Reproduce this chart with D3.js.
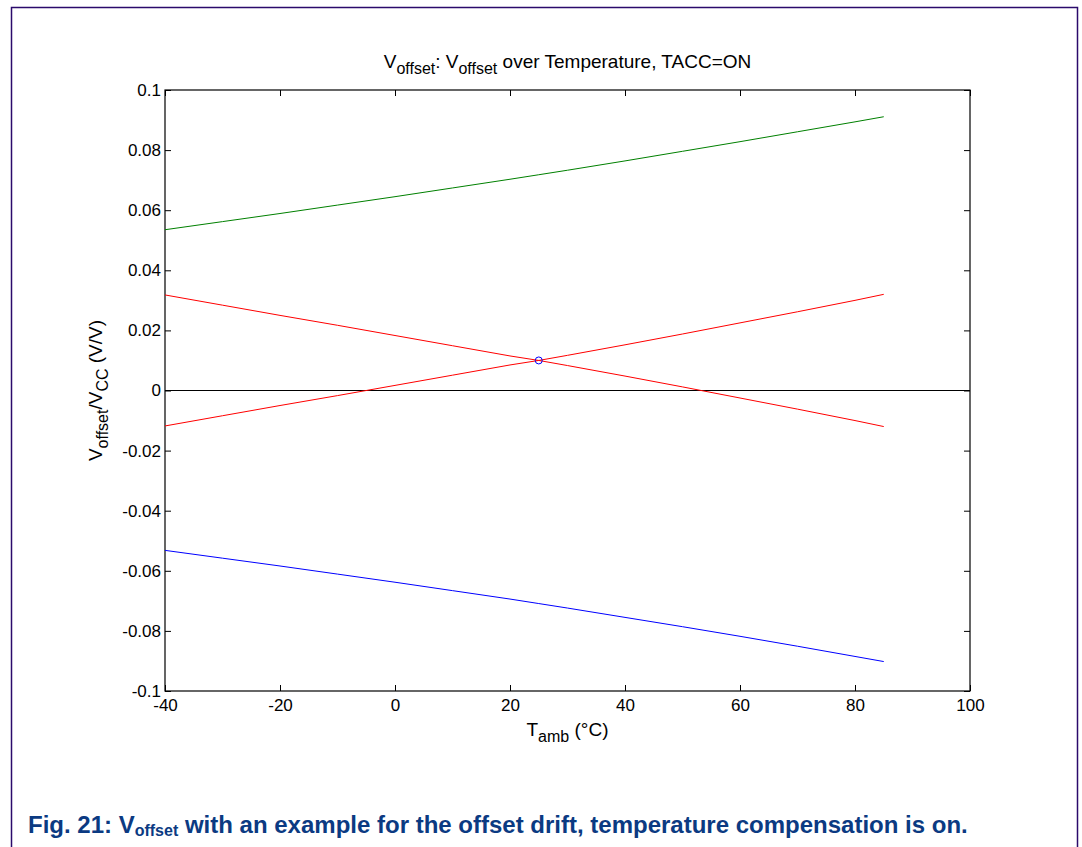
<!DOCTYPE html>
<html>
<head>
<meta charset="utf-8">
<script src="https://cdn.jsdelivr.net/npm/d3@7"></script>
<style>
  body { margin: 0; background: #fff; }
  svg { display: block; font-family: "Liberation Sans", Arial, sans-serif; }
</style>
</head>
<body>
<div id="chart"></div>
<script>
// values
var temps = [-40, -30, -20, -10, 0, 10, 20, 25, 30, 40, 50, 60, 70, 80, 85];
var upperLimit = [0.0535, 0.0562, 0.0589, 0.0617, 0.0645, 0.0674, 0.0703, 0.0718, 0.0733, 0.0764, 0.0796, 0.0828, 0.0861, 0.0894, 0.0911];
var lowerLimit = [-0.0532, -0.0558, -0.0584, -0.0611, -0.0638, -0.0666, -0.0694, -0.0709, -0.0724, -0.0755, -0.0786, -0.0818, -0.0851, -0.0885, -0.0902];
var driftUp = [-0.0118, -0.0084, -0.0050, -0.0017, 0.0017, 0.0051, 0.0085, 0.0100, 0.0117, 0.0152, 0.0188, 0.0225, 0.0262, 0.0300, 0.0320];
var driftDown = [0.0318, 0.0284, 0.0250, 0.0217, 0.0183, 0.0149, 0.0115, 0.0100, 0.0083, 0.0048, 0.0012, -0.0025, -0.0062, -0.0100, -0.0120];
var refPoint = [25, 0.010];
var xTicks = [-40, -20, 0, 20, 40, 60, 80, 100];
var yTicks = [-0.1, -0.08, -0.06, -0.04, -0.02, 0, 0.02, 0.04, 0.06, 0.08, 0.1];

var width = 1082,
  height = 847,
  plotLeft = 165, plotRight = 970, plotTop = 90, plotBottom = 691;

var svg = d3.select("#chart")
  .append("svg")
  .attr("width", width)
  .attr("height", height);

// outer page frame
svg.append("rect")
  .attr("x", 11.5)
  .attr("y", 7.5)
  .attr("width", 1066)
  .attr("height", 880)
  .attr("fill", "none")
  .attr("stroke", "#2b0a6b")
  .attr("stroke-width", 1.5);

var x = d3.scaleLinear().domain([-40, 100]).range([plotLeft, plotRight]);
var y = d3.scaleLinear().domain([-0.1, 0.1]).range([plotBottom, plotTop]);

var fmt = function (d) { return String(+d.toFixed(2)); };

function styleAxis(g) {
  g.select(".domain").remove();
  g.selectAll(".tick line").attr("stroke", "#000");
  g.selectAll(".tick text").attr("font-size", 17).attr("fill", "#000")
    .attr("font-family", "'Liberation Sans', Arial, sans-serif");
}

svg.append("g")
  .attr("transform", "translate(0," + plotBottom + ")")
  .call(d3.axisBottom(x).tickValues(xTicks).tickFormat(String).tickSizeInner(-6).tickSizeOuter(0).tickPadding(8))
  .call(styleAxis);

svg.append("g")
  .attr("transform", "translate(0," + plotTop + ")")
  .call(d3.axisTop(x).tickValues(xTicks).tickFormat("").tickSizeInner(-6).tickSizeOuter(0))
  .call(styleAxis);

svg.append("g")
  .attr("transform", "translate(" + plotLeft + ",0)")
  .call(d3.axisLeft(y).tickValues(yTicks).tickFormat(fmt).tickSizeInner(-6).tickSizeOuter(0).tickPadding(4))
  .call(styleAxis);

svg.append("g")
  .attr("transform", "translate(" + plotRight + ",0)")
  .call(d3.axisRight(y).tickValues(yTicks).tickFormat("").tickSizeInner(-6).tickSizeOuter(0))
  .call(styleAxis);

// plot box
svg.append("rect")
  .attr("x", plotLeft)
  .attr("y", plotTop)
  .attr("width", plotRight - plotLeft)
  .attr("height", plotBottom - plotTop)
  .attr("fill", "none")
  .attr("stroke", "#000")
  .attr("stroke-width", 1.2);

// zero line
svg.append("line")
  .attr("x1", x(-40)).attr("x2", x(100))
  .attr("y1", y(0)).attr("y2", y(0))
  .attr("stroke", "#000")
  .attr("stroke-width", 1);

var line = d3.line()
  .x(function (d) { return x(d[0]); })
  .y(function (d) { return y(d[1]); });

var series = [
  { values: upperLimit, color: "#008000" },
  { values: lowerLimit, color: "#0000ff" },
  { values: driftUp, color: "#ff0000" },
  { values: driftDown, color: "#ff0000" }
];

series.forEach(function (s) {
  svg.append("path")
    .datum(temps.map(function (t, i) { return [t, s.values[i]]; }))
    .attr("d", line)
    .attr("fill", "none")
    .attr("stroke", s.color)
    .attr("stroke-width", 1);
});

svg.append("circle")
  .attr("cx", x(refPoint[0]))
  .attr("cy", y(refPoint[1]))
  .attr("r", 3.5)
  .attr("fill", "none")
  .attr("stroke", "#0000ff")
  .attr("stroke-width", 1);

// title
var title = svg.append("text")
  .attr("x", (plotLeft + plotRight) / 2)
  .attr("y", 68)
  .attr("text-anchor", "middle")
  .attr("font-size", 19)
  .attr("fill", "#000");
title.append("tspan").text("V");
title.append("tspan").attr("font-size", 16).attr("dy", 6).text("offset");
title.append("tspan").attr("dy", -6).text(": V");
title.append("tspan").attr("font-size", 16).attr("dy", 6).text("offset");
title.append("tspan").attr("dy", -6).text(" over Temperature, TACC=ON");

// x label
var xl = svg.append("text")
  .attr("x", (plotLeft + plotRight) / 2)
  .attr("y", 736)
  .attr("text-anchor", "middle")
  .attr("font-size", 19)
  .attr("fill", "#000");
xl.append("tspan").text("T");
xl.append("tspan").attr("font-size", 16).attr("dy", 6).text("amb");
xl.append("tspan").attr("dy", -6).text(" (\u00B0C)");

// y label
var yl = svg.append("text")
  .attr("transform", "translate(102," + ((plotTop + plotBottom) / 2) + ") rotate(-90)")
  .attr("text-anchor", "middle")
  .attr("font-size", 19)
  .attr("fill", "#000");
yl.append("tspan").text("V");
yl.append("tspan").attr("font-size", 16).attr("dy", 6).text("offset");
yl.append("tspan").attr("dy", -6).text("/V");
yl.append("tspan").attr("font-size", 16).attr("dy", 6).text("CC");
yl.append("tspan").attr("dy", -6).text(" (V/V)");

// caption
var cap = svg.append("text")
  .attr("x", 28)
  .attr("y", 833)
  .attr("font-size", 24)
  .attr("font-weight", "bold")
  .attr("fill", "#0b3a82");
cap.append("tspan").text("Fig. 21: V");
cap.append("tspan").attr("font-size", 16).attr("dy", 3).text("offset");
cap.append("tspan").attr("dy", -3).text(" with an example for the offset drift, temperature compensation is on.");
</script>
</body>
</html>
